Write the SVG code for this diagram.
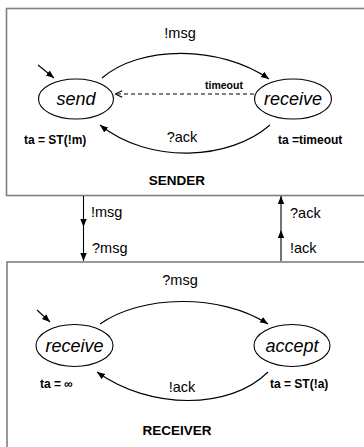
<svg xmlns="http://www.w3.org/2000/svg" width="364" height="447" viewBox="0 0 364 447">
  <style>
    .box { fill: #ffffff; stroke: #7f7f7f; stroke-width: 1.6; }
    .state { fill: #ffffff; stroke: #000000; stroke-width: 1.1; }
    .edge { fill: none; stroke: #000000; stroke-width: 1.1; }
    .dash { stroke-dasharray: 4 3; }
    .sname { font-family: "Liberation Sans", Arial, sans-serif; font-style: italic; font-size: 18px; fill: #000; text-anchor: middle; }
    .lbl { font-family: "Liberation Sans", Arial, sans-serif; font-size: 14.5px; fill: #000; }
    .ta { font-family: "Liberation Sans", Arial, sans-serif; font-weight: bold; font-size: 12px; fill: #000; }
    .title { font-family: "Liberation Sans", Arial, sans-serif; font-weight: bold; font-size: 13.5px; fill: #000; text-anchor: middle; }
    .small { font-family: "Liberation Sans", Arial, sans-serif; font-weight: bold; font-size: 10.5px; fill: #000; }
  </style>
  <defs>
    <marker id="arr" viewBox="0 0 10 10" refX="10" refY="5" markerWidth="8" markerHeight="8" orient="auto" markerUnits="userSpaceOnUse">
      <path d="M0,1 L10,5 L0,9 Z" fill="#000"/>
    </marker>
    <marker id="open" viewBox="0 0 10 10" refX="10" refY="5" markerWidth="8" markerHeight="8" orient="auto" markerUnits="userSpaceOnUse">
      <path d="M1,1 L10,5 L1,9" fill="none" stroke="#000" stroke-width="1.3"/>
    </marker>
  </defs>

  <!-- component frames -->
  <g id="sender">
    <rect class="box" x="6.5" y="8.5" width="370" height="187"/>
    <text class="title" x="177" y="185">SENDER</text>
  </g>
  <g id="receiver">
    <rect class="box" x="7" y="262" width="370" height="200"/>
    <text class="title" x="177" y="435">RECEIVER</text>
  </g>

  <!-- sender states -->
  <g id="s-send">
    <ellipse class="state" cx="76" cy="99" rx="37.5" ry="20"/>
    <text class="sname" x="76" y="105">send</text>
    <text class="ta" x="24" y="144">ta = ST(!m)</text>
  </g>
  <g id="s-receive">
    <ellipse class="state" cx="293" cy="99" rx="38.5" ry="20"/>
    <text class="sname" x="293" y="105">receive</text>
    <text class="ta" x="278" y="144">ta =timeout</text>
  </g>

  <!-- receiver states -->
  <g id="r-receive">
    <ellipse class="state" cx="74.5" cy="345.5" rx="38.5" ry="21"/>
    <text class="sname" x="74.5" y="351.5">receive</text>
    <text class="ta" x="40" y="388">ta = ∞</text>
  </g>
  <g id="r-accept">
    <ellipse class="state" cx="292" cy="345.5" rx="38" ry="21"/>
    <text class="sname" x="292" y="351.5">accept</text>
    <text class="ta" x="270" y="388">ta = ST(!a)</text>
  </g>

  <!-- transitions and channels -->
  <g id="connectors">
    <!-- sender -->
    <line class="edge" x1="38" y1="65" x2="54" y2="78" stroke-width="1.6" marker-end="url(#arr)"/>
    <path class="edge" d="M102,78 C140,45 220,45 269,79" marker-end="url(#arr)"/>
    <text class="lbl" x="180" y="38" text-anchor="middle">!msg</text>
    <line class="edge dash" x1="254" y1="94" x2="115" y2="94" marker-end="url(#open)"/>
    <text class="small" x="224" y="89" text-anchor="middle">timeout</text>
    <path class="edge" d="M270,125 C230,160 150,165 100,125" marker-end="url(#arr)"/>
    <text class="lbl" x="182" y="142" text-anchor="middle">?ack</text>

    <!-- receiver -->
    <line class="edge" x1="37" y1="310" x2="50" y2="322" stroke-width="1.6" marker-end="url(#arr)"/>
    <path class="edge" d="M100,324 C140,295 220,293 268,324" marker-end="url(#arr)"/>
    <text class="lbl" x="180" y="285" text-anchor="middle">?msg</text>
    <path class="edge" d="M268,372 C230,410 150,410 97,372" marker-end="url(#arr)"/>
    <text class="lbl" x="182" y="392" text-anchor="middle">!ack</text>

    <!-- channels between components -->
    <line class="edge" x1="83.5" y1="196" x2="83.5" y2="227" marker-end="url(#arr)"/>
    <line class="edge" x1="83.5" y1="227" x2="83.5" y2="261" marker-end="url(#arr)"/>
    <text class="lbl" x="91" y="217">!msg</text>
    <text class="lbl" x="92" y="253">?msg</text>
    <line class="edge" x1="281" y1="261" x2="281" y2="230" marker-end="url(#arr)"/>
    <line class="edge" x1="281" y1="230" x2="281" y2="196" marker-end="url(#arr)"/>
    <text class="lbl" x="290" y="218">?ack</text>
    <text class="lbl" x="290" y="253">!ack</text>
  </g>
</svg>
